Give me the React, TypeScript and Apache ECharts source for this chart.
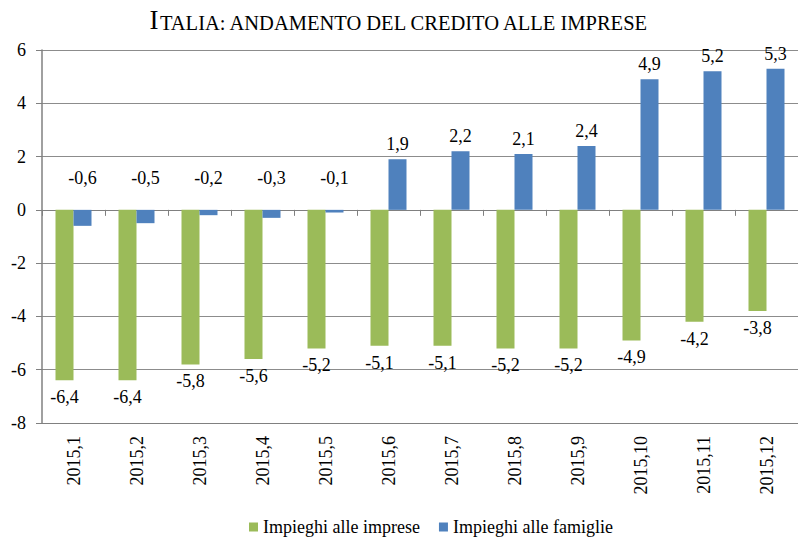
import React, { useEffect, useRef } from "react";
import * as echarts from "echarts";

const categories = [
  "2015,1", "2015,2", "2015,3", "2015,4", "2015,5", "2015,6",
  "2015,7", "2015,8", "2015,9", "2015,10", "2015,11", "2015,12",
];
const impieghiImprese = [-6.4, -6.4, -5.8, -5.6, -5.2, -5.1, -5.1, -5.2, -5.2, -4.9, -4.2, -3.8];
const impieghiFamiglie = [-0.6, -0.5, -0.2, -0.3, -0.1, 1.9, 2.2, 2.1, 2.4, 4.9, 5.2, 5.3];
const yMin = -8;
const yMax = 6;
const yInterval = 2;

const FONT = "Liberation Serif";
const GREEN = "#9BBB59";
const BLUE = "#4F81BD";

const fmt = (v: number) => v.toFixed(1).replace(".", ",");

export default function App() {
  const ref = useRef<HTMLDivElement>(null);

  useEffect(() => {
    if (!ref.current) return;
    const chart = echarts.init(ref.current, undefined, { renderer: "svg" });

    const famData = impieghiFamiglie.map((v) =>
      v < 0
        ? { value: v, label: { position: "top", offset: [0, -17] } }
        : { value: v }
    );

    chart.setOption({
      animation: false,
      backgroundColor: "#ffffff",
      textStyle: { fontFamily: FONT },
      title: {
        text: "{big|I}{small|TALIA: ANDAMENTO DEL CREDITO ALLE IMPRESE}",
        left: "center",
        top: 1,
        textStyle: {
          fontWeight: "normal",
          fontFamily: FONT,
          rich: {
            big: { fontSize: 27, fontFamily: FONT, fontWeight: "normal", color: "#000", verticalAlign: "bottom" },
            small: { fontSize: 20.5, fontFamily: FONT, fontWeight: "normal", color: "#000", verticalAlign: "bottom" },
          },
        },
      },
      legend: {
        left: 244,
        top: 513,
        itemWidth: 9,
        itemHeight: 9,
        itemGap: 19,
        icon: "rect",
        textStyle: { fontSize: 18, fontFamily: FONT, color: "#000" },
        data: ["Impieghi alle imprese", "Impieghi alle famiglie"],
      },
      grid: { left: 42, right: -11, top: 50, bottom: 115, containLabel: false },
      xAxis: [
        {
          type: "category",
          data: categories,
          position: "bottom",
          axisLine: { onZero: false, show: true, lineStyle: { color: "#808080", width: 1.2 } },
          axisTick: { show: false },
          axisLabel: {
            rotate: 90,
            margin: 13,
            interval: 0,
            fontSize: 18,
            fontFamily: FONT,
            color: "#000",
          },
        },
        {
          type: "category",
          data: categories,
          position: "bottom",
          axisLine: { onZero: true, show: true, lineStyle: { color: "#808080", width: 1.2 } },
          axisTick: { show: true, length: 6, lineStyle: { color: "#808080" }, interval: 0 },
          axisLabel: { show: false },
        },
      ],
      yAxis: {
        type: "value",
        min: yMin,
        max: yMax,
        interval: yInterval,
        axisLine: { show: true, lineStyle: { color: "#808080", width: 1.5 } },
        axisTick: { show: true, length: 6, lineStyle: { color: "#808080" } },
        axisLabel: {
          margin: 16,
          fontSize: 18,
          fontFamily: FONT,
          color: "#000",
          formatter: (v: number) => String(v),
        },
        splitLine: { show: true, lineStyle: { color: "#8c8c8c", width: 1 } },
      },
      series: [
        {
          name: "Impieghi alle imprese",
          type: "bar",
          xAxisIndex: 0,
          data: impieghiImprese,
          barWidth: 18,
          barGap: "0%",
          itemStyle: { color: GREEN },
          label: {
            show: true,
            position: "bottom",
            distance: 8,
            fontSize: 18,
            fontFamily: FONT,
            color: "#000",
            formatter: (p: any) => fmt(p.value),
          },
        },
        {
          name: "Impieghi alle famiglie",
          type: "bar",
          xAxisIndex: 0,
          data: famData,
          barWidth: 18,
          barGap: "0%",
          itemStyle: { color: BLUE },
          label: {
            show: true,
            position: "top",
            distance: 6,
            fontSize: 18,
            fontFamily: FONT,
            color: "#000",
            formatter: (p: any) => fmt(p.value),
          },
        },
      ],
    });

    return () => chart.dispose();
  }, []);

  return (
    <div
      ref={ref}
      style={{ position: "absolute", left: 0, top: 0, width: 798, height: 538, background: "#fff" }}
    />
  );
}
